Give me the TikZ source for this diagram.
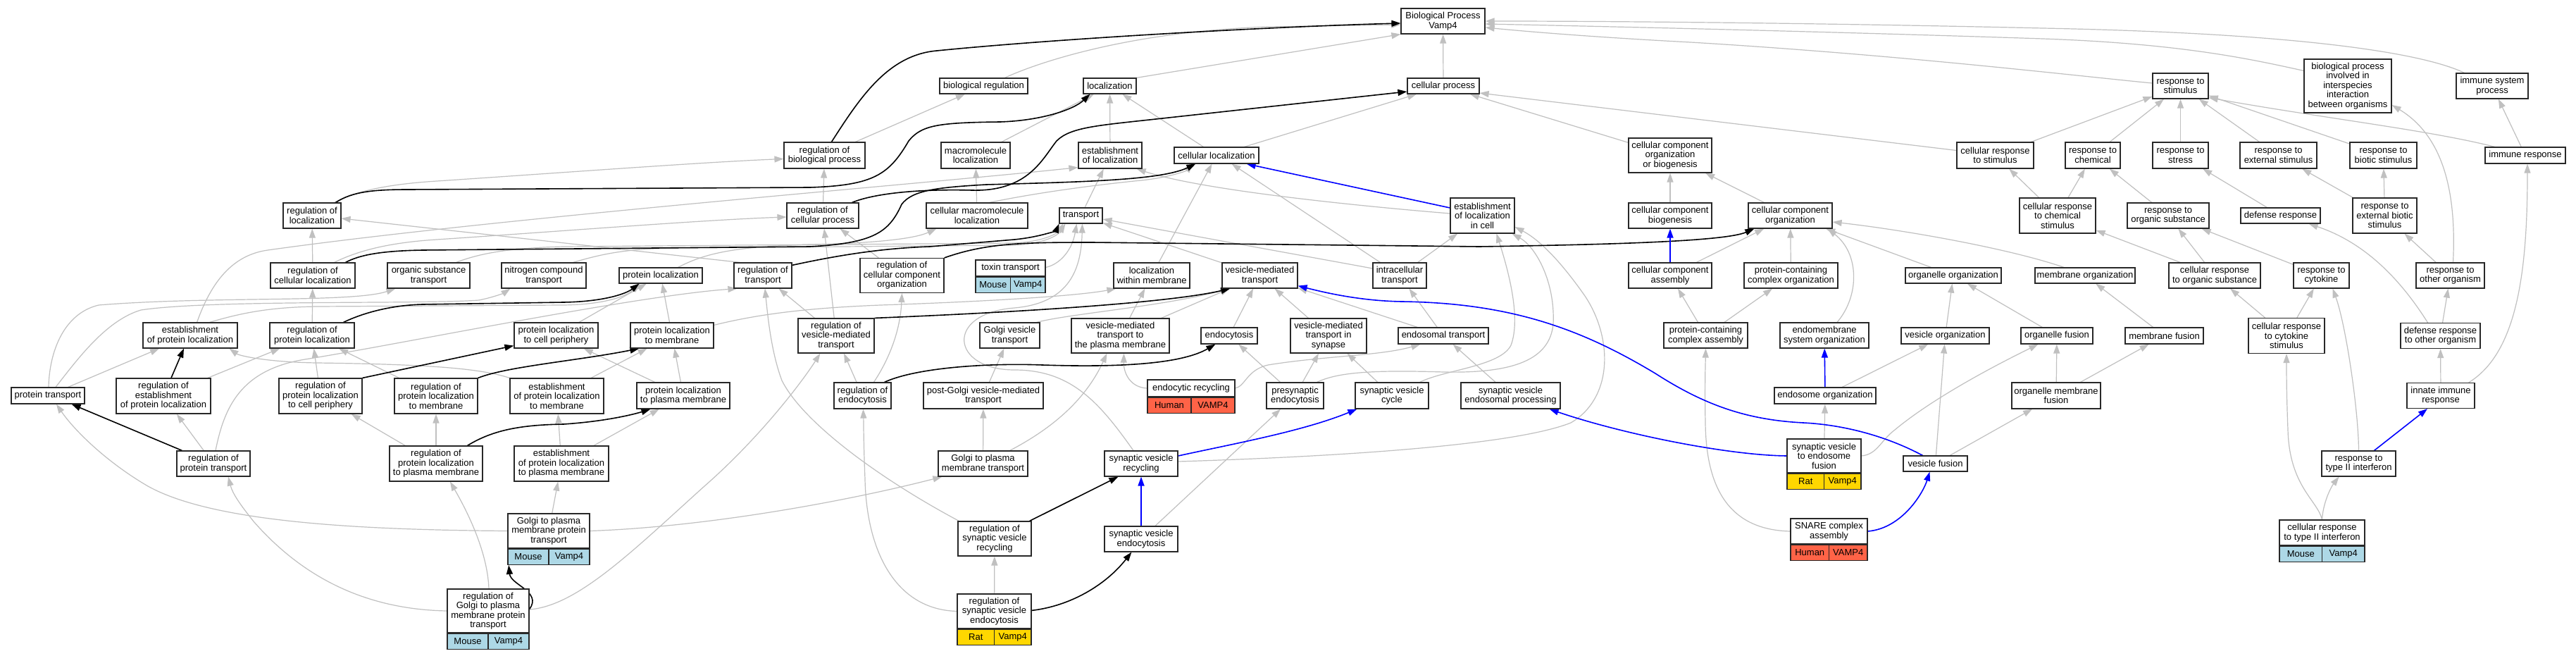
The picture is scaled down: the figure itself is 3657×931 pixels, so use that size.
\documentclass[tikz,border=0pt]{standalone}
\usepackage{fontspec}
\setmainfont{Liberation Sans}
\usetikzlibrary{arrows.meta,calc,fit,backgrounds}
\definecolor{edgegray}{RGB}{192,192,192}
\definecolor{mouseblue}{RGB}{173,216,230}
\definecolor{humanred}{RGB}{255,99,71}
\definecolor{ratgold}{RGB}{255,215,0}
\definecolor{boxline}{RGB}{40,40,40}
\newcommand\glbl{\fontsize{13pt}{13.4pt}\selectfont}
\tikzset{
 gobox/.style={draw=boxline, line width=1.2pt, fill=white, inner sep=1pt, align=center, font=\glbl},
 gbox/.style 2 args={gobox, minimum width=#1pt, minimum height=#2pt},
 gcell/.style={draw=boxline, line width=1.2pt, inner sep=0pt, font=\glbl, minimum height=22pt},
 eisa/.style={draw=edgegray, line width=1.2pt, -{Triangle[length=13pt,width=9pt]}},
 ereg/.style={draw=black, line width=1.6pt, -{Triangle[length=13pt,width=9pt]}},
 epart/.style={draw=blue, line width=1.6pt, -{Triangle[length=13pt,width=9pt]}},
}
\newcommand\recnode[9]{%
 \node[gbox={#4}{#5}] (#1T) at (#2,#3) {#6};
 \node[gcell, fill=#9, minimum width={#4pt/2}, anchor=north west] (#1A) at (#1T.south west) {#7};
 \node[gcell, fill=#9, minimum width={#4pt/2}, anchor=north east] (#1B) at (#1T.south east) {#8};
 \node[fit=(#1T)(#1A)(#1B), inner sep=0pt] (#1) {};
}
\begin{document}
\begin{tikzpicture}[x=1pt,y=-1pt]
\useasboundingbox (0,0) rectangle (3657,931);
% ---------- R0
\node[gbox={119}{36}] (bp) at (2048.5,30) {Biological Process\\Vamp4};
% ---------- R1
\node[gbox={125}{22}] (breg) at (1396.5,122) {biological regulation};
\node[gbox={75}{22}] (loc) at (1575.5,122) {localization};
\node[gbox={102}{22}] (cp) at (2049,122) {cellular process};
\node[gbox={79}{36}] (rstim) at (3095.5,122) {response to\\stimulus};
\node[gbox={124}{76}] (inter) at (3333,122) {biological process\\involved in\\interspecies\\interaction\\between organisms};
\node[gbox={102}{36}] (isp) at (3538,122) {immune system\\process};
% ---------- R2
\node[gbox={115}{37}] (rbp) at (1170.5,220.5) {regulation of\\biological process};
\node[gbox={98}{37}] (mloc) at (1385,220.5) {macromolecule\\localization};
\node[gbox={90}{37}] (eloc) at (1576,220.5) {establishment\\of localization};
\node[gbox={120}{23}] (cloc) at (1727,220.5) {cellular localization};
\node[gbox={118}{49}] (ccob) at (2371,220.5) {cellular component\\organization\\or biogenesis};
\node[gbox={109}{37}] (crs) at (2832.5,220.5) {cellular response\\to stimulus};
\node[gbox={78}{37}] (rchem) at (2971,220.5) {response to\\chemical};
\node[gbox={79}{37}] (rstress) at (3095.5,220.5) {response to\\stress};
\node[gbox={109}{37}] (rext) at (3234.5,220.5) {response to\\external stimulus};
\node[gbox={95}{37}] (rbio) at (3383.5,220.5) {response to\\biotic stimulus};
\node[gbox={114}{23}] (ir) at (3585,220.5) {immune response};
% ---------- R3
\node[gbox={82}{36}] (rloc) at (443,306) {regulation of\\localization};
\node[gbox={102}{36}] (rcp) at (1168,306) {regulation of\\cellular process};
\node[gbox={144}{36}] (cmloc) at (1387,306) {cellular macromolecule\\localization};
\node[gbox={61}{22}] (transport) at (1534.5,306) {transport};
\node[gbox={91}{50}] (elocc) at (2104.5,306) {establishment\\of localization\\in cell};
\node[gbox={118}{36}] (ccb) at (2371,306) {cellular component\\biogenesis};
\node[gbox={119}{36}] (cco) at (2541.5,306) {cellular component\\organization};
\node[gbox={108}{50}] (crcs) at (2921,306) {cellular response\\to chemical\\stimulus};
\node[gbox={116}{36}] (ros) at (3078,306) {response to\\organic substance};
\node[gbox={113}{22}] (defr) at (3237.5,306) {defense response};
\node[gbox={91}{50}] (rebs) at (3385.5,306) {response to\\external biotic\\stimulus};
% ---------- R4
\node[gbox={120}{36}] (rcloc) at (444,391) {regulation of\\cellular localization};
\node[gbox={117}{36}] (ost) at (608.5,391) {organic substance\\transport};
\node[gbox={120}{36}] (nct) at (772,391) {nitrogen compound\\transport};
\node[gbox={118}{22}] (ploc) at (938,391) {protein localization};
\node[gbox={82}{36}] (rtr) at (1083,391) {regulation of\\transport};
\node[gbox={119}{49}] (rcco) at (1280.5,391) {regulation of\\cellular component\\organization};
\recnode{toxin}{1434.5}{380.5}{99}{23}{toxin transport}{Mouse}{Vamp4}{mouseblue}
\node[gbox={108}{36}] (lwm) at (1635,391) {localization\\within membrane};
\node[gbox={107}{36}] (vmt) at (1788.5,391) {vesicle-mediated\\transport};
\node[gbox={76}{36}] (ict) at (1987,391) {intracellular\\transport};
\node[gbox={118}{36}] (cca) at (2371,391) {cellular component\\assembly};
\node[gbox={133}{36}] (pcco) at (2542.5,391) {protein-containing\\complex organization};
\node[gbox={136}{22}] (oo) at (2773,391) {organelle organization};
\node[gbox={142}{22}] (mo) at (2960,391) {membrane organization};
\node[gbox={130}{36}] (cros) at (3144,391) {cellular response\\to organic substance};
\node[gbox={79}{36}] (rcyt) at (3295.5,391) {response to\\cytokine};
\node[gbox={97}{36}] (roo) at (3478.5,391) {response to\\other organism};
% ---------- R5
\node[gbox={134}{36}] (epl) at (270,476) {establishment\\of protein localization};
\node[gbox={120}{36}] (rpl) at (443,476) {regulation of\\protein localization};
\node[gbox={119}{36}] (plcp) at (789.5,476) {protein localization\\to cell periphery};
\node[gbox={118}{36}] (plm) at (954,476) {protein localization\\to membrane};
\node[gbox={108}{49}] (rvmt) at (1187,476.5) {regulation of\\vesicle-mediated\\transport};
\node[gbox={85}{36}] (gvt) at (1433.5,476) {Golgi vesicle\\transport};
\node[gbox={139}{49}] (vmtpm) at (1590.5,476.5) {vesicle-mediated\\transport to\\the plasma membrane};
\node[gbox={80}{23}] (endo) at (1745,476.5) {endocytosis};
\node[gbox={108}{49}] (vmts) at (1886,476.5) {vesicle-mediated\\transport in\\synapse};
\node[gbox={128}{23}] (et) at (2049,476.5) {endosomal transport};
\node[gbox={119}{36}] (pcca) at (2421.5,476) {protein-containing\\complex assembly};
\node[gbox={126}{36}] (emso) at (2590,476) {endomembrane\\system organization};
\node[gbox={125}{23}] (vo) at (2761.5,476.5) {vesicle organization};
\node[gbox={102}{23}] (of) at (2920,476.5) {organelle fusion};
\node[gbox={111}{23}] (mf) at (3072.5,476.5) {membrane fusion};
\node[gbox={108}{50}] (crcy) at (3246,476.5) {cellular response\\to cytokine\\stimulus};
\node[gbox={113}{36}] (dro) at (3464.5,476.5) {defense response\\to other organism};
% ---------- R6
\node[gbox={104}{23}] (pt) at (68,561.5) {protein transport};
\node[gbox={134}{50}] (repl) at (232,562) {regulation of\\establishment\\of protein localization};
\node[gbox={118}{50}] (rplcp) at (455,562) {regulation of\\protein localization\\to cell periphery};
\node[gbox={118}{50}] (rplm) at (619,562) {regulation of\\protein localization\\to membrane};
\node[gbox={133}{50}] (eplm) at (790.5,562) {establishment\\of protein localization\\to membrane};
\node[gbox={132}{37}] (plpm) at (970,561.5) {protein localization\\to plasma membrane};
\node[gbox={81}{37}] (rendo) at (1224.5,561.5) {regulation of\\endocytosis};
\node[gbox={170}{37}] (pgvt) at (1396,561.5) {post-Golgi vesicle-mediated\\transport};
\recnode{erec}{1691}{551}{124}{24}{endocytic recycling}{Human}{VAMP4}{humanred}
\node[gbox={81}{37}] (pse) at (1838.5,561.5) {presynaptic\\endocytosis};
\node[gbox={104}{37}] (svc) at (1976,561.5) {synaptic vesicle\\cycle};
\node[gbox={141}{37}] (svep) at (2144.5,561.5) {synaptic vesicle\\endosomal processing};
\node[gbox={144}{23}] (eo) at (2591,561.5) {endosome organization};
\node[gbox={126}{37}] (omf) at (2919,561.5) {organelle membrane\\fusion};
\node[gbox={96}{36}] (iir) at (3465,561.5) {innate immune\\response};
% ---------- R7
\node[gbox={104}{36}] (rpt) at (303,658) {regulation of\\protein transport};
\node[gbox={132}{50}] (rplpm) at (619,658) {regulation of\\protein localization\\to plasma membrane};
\node[gbox={134}{50}] (eplpm) at (797,658) {establishment\\of protein localization\\to plasma membrane};
\node[gbox={127}{36}] (gpmt) at (1395.5,658) {Golgi to plasma\\membrane transport};
\node[gbox={104}{36}] (svr) at (1620,658) {synaptic vesicle\\recycling};
\recnode{svef}{2589.5}{647}{105}{48}{synaptic vesicle\\to endosome\\fusion}{Rat}{Vamp4}{ratgold}
\node[gbox={91}{22}] (vf) at (2747.5,658) {vesicle fusion};
\node[gbox={105}{36}] (rt2) at (3348.5,658) {response to\\type II interferon};
% ---------- R8
\recnode{gpmpt}{779}{753.5}{116}{49}{Golgi to plasma\\membrane protein\\transport}{Mouse}{Vamp4}{mouseblue}
\node[gbox={104}{49}] (rsvr) at (1412,764.5) {regulation of\\synaptic vesicle\\recycling};
\node[gbox={104}{36}] (sve) at (1620,765) {synaptic vesicle\\endocytosis};
\recnode{snare}{2596.5}{754}{109}{36}{SNARE complex\\assembly}{Human}{VAMP4}{humanred}
\recnode{crt2}{3296.5}{756}{121}{36}{cellular response\\to type II interferon}{Mouse}{Vamp4}{mouseblue}
% ---------- R9
\recnode{rgpmpt}{693}{867}{116}{62}{regulation of\\Golgi to plasma\\membrane protein\\transport}{Mouse}{Vamp4}{mouseblue}
\recnode{rsve}{1411.5}{867.5}{105}{49}{regulation of\\synaptic vesicle\\endocytosis}{Rat}{Vamp4}{ratgold}

\begin{pgfonlayer}{background}
\fill[white] (0,0) rectangle (3657,931);
% ================= gray (is a)
\draw[eisa] ($(breg.north)+(30,0)$) .. controls (1470,90) and (1600,45) .. (1800,38) -- ($(bp.west)+(0,5)$);
\draw[eisa] (loc.north east) -- (bp.south west);
\draw[eisa] (cp) -- (bp);
\draw[eisa] ($(rstim.west)+(0,-4)$) .. controls (2950,108) and (2700,78) .. (2400,60) .. controls (2250,52) and (2160,44) .. ($(bp.east)+(0,9)$);
\draw[eisa] ($(inter.north west)+(0,17)$) .. controls (3200,85) and (3100,62) .. (2900,55) .. controls (2600,45) and (2300,38) .. ($(bp.east)+(0,4)$);
\draw[eisa] ($(isp.north west)+(12,0)$) .. controls (3450,80) and (3300,48) .. (2900,40) .. controls (2600,33) and (2300,30) .. (bp.east);
\draw[eisa] (cloc) -- (cp);
\draw[eisa] (ccob) -- (cp);
\draw[eisa] ($(crs.west)+(0,-7)$) -- ($(cp.east)+(0,10)$);
\draw[eisa] (rbp) -- (breg);
\draw[eisa] (mloc) -- (loc);
\draw[eisa] (eloc) -- (loc);
\draw[eisa] (cloc) -- (loc);
\draw[eisa] ($(rloc.north east)+(-10,0)$) .. controls (500,274) and (540,262) .. (620,257) .. controls (800,245) and (1000,230) .. ($(rbp.west)+(0,5)$);
\draw[eisa] (rcp) -- (rbp);
\draw[eisa] (cmloc) -- (mloc);
\draw[eisa] ($(cmloc.north east)+(-55,0)$) .. controls (1480,272) and (1560,262) .. (1620,256) .. controls (1660,252) and (1685,242) .. ($(cloc.south west)+(27,0)$);
\draw[eisa] (transport) -- (eloc);
\draw[eisa] ($(elocc.west)+(0,-3)$) .. controls (1900,290) and (1700,268) .. ($(eloc.south east)+(-8,0)$);
\draw[eisa] (ict) -- (elocc);
\draw[eisa] ($(ict.west)+(0,-10)$) .. controls (1900,372) and (1750,345) .. ($(transport.east)+(0,5)$);
\draw[eisa] ($(ict.north west)+(11,0)$) -- ($(cloc.south east)+(-39,0)$);
\draw[eisa] (lwm) -- (cloc);
\draw[eisa] (vmt) -- (transport);
\draw[eisa] ($(toxinT.east)+(0,-1)$) .. controls (1505,375) and (1522,355) .. ($(transport.south)+(-6,0)$);
\draw[eisa] ($(ost.north east)+(-20,0)$) .. controls (680,360) and (720,352) .. (800,350) -- (1440,345) .. controls (1480,343) and (1500,332) .. ($(transport.south west)+(6,0)$);
\draw[eisa] ($(nct.north east)+(-19,0)$) .. controls (850,362) and (880,354) .. (950,352) -- (1440,348) .. controls (1482,346) and (1502,334) .. ($(transport.south west)+(9,0)$);
\draw[eisa] ($(rtr.north west)+(9,0)$) -- ($(rloc.east)+(0,4)$);
\draw[eisa] (rcloc) -- (rloc);
\draw[eisa] ($(rcloc.north east)+(-30,0)$) .. controls (500,360) and (540,345) .. (620,340) .. controls (800,328) and (1000,312) .. ($(rcp.west)+(0,2)$);
\draw[eisa] ($(epl.north east)+(-58,0)$) .. controls (300,400) and (330,362) .. (380,355) .. controls (700,310) and (1300,262) .. ($(eloc.south west)+(0,-2)$);
\draw[eisa] ($(epl.north east)+(-40,0)$) .. controls (340,445) and (380,436) .. (450,435) -- (800,433) .. controls (860,432) and (890,420) .. ($(ploc.south west)+(30,0)$);
\draw[eisa] (rpl) -- (rcloc);
\draw[eisa] (repl) -- (rpl);
\draw[eisa] (pt) -- (epl);
\draw[eisa] ($(pt.north)+(1,0)$) .. controls (70,500) and (90,445) .. (140,433) .. controls (300,420) and (500,430) .. ($(ost.south west)+(12,0)$);
\draw[eisa] ($(pt.north)+(11,0)$) .. controls (110,510) and (150,455) .. (200,440) .. controls (300,425) and (600,432) .. (680,426) .. controls (700,422) and (715,416) .. ($(nct.south west)+(13,0)$);
\draw[eisa] (rpt) -- (repl);
\draw[eisa] ($(rpt.north)+(3,0)$) .. controls (318,580) and (340,525) .. (433,510) .. controls (560,490) and (900,420) .. ($(rtr.south west)+(5,0)$);
\draw[eisa] (rplcp) -- (rpl);
\draw[eisa] (rplm) -- (rpl);
\draw[eisa] (eplm.north west) .. controls (680,522) and (600,517) .. (450,515) .. controls (380,514) and (340,505) .. ($(epl.south east)+(-12,0)$);
\draw[eisa] (eplm) -- (plm);
\draw[eisa] (plcp) -- (ploc);
\draw[eisa] (plm) -- (ploc);
\draw[eisa] ($(plm.north east)+(0,4)$) .. controls (1080,445) and (1150,437) .. (1250,433) .. controls (1400,428) and (1530,420) .. ($(lwm.south west)+(4,0)$);
\draw[eisa] (plpm) -- (plm);
\draw[eisa] (plpm) -- (plcp);
\draw[eisa] (rplpm) -- (rplm);
\draw[eisa] (rplpm) -- (rplcp);
\draw[eisa] (eplpm) -- (eplm);
\draw[eisa] (eplpm) -- (plpm);
\draw[eisa] (gpmptT) -- (eplpm);
\draw[eisa] (gpmptT.east) .. controls (1000,748) and (1200,712) .. ($(gpmt.south west)+(6,0)$);
\draw[eisa] (gpmptT.west) .. controls (500,752) and (300,740) .. (210,690) .. controls (150,655) and (105,610) .. ($(pt.south)+(12,0)$);
\draw[eisa] ($(rgpmptT.north)+(1,0)$) .. controls (692,780) and (660,720) .. ($(rplpm.south)+(20,0)$);
\draw[eisa] (rgpmptT.west) .. controls (520,865) and (430,820) .. (360,740) .. controls (340,715) and (330,700) .. ($(rpt.south)+(21,0)$);
\draw[eisa] ($(rgpmptT.east)+(0,-2)$) .. controls (820,860) and (900,780) .. (1000,690) .. controls (1080,620) and (1140,540) .. ($(rvmt.south west)+(32,0)$);
\draw[eisa] (rendo) -- (rvmt);
\draw[eisa] ($(rendo.north)+(16,0)$) .. controls (1262,510) and (1278,470) .. (rcco.south);
\draw[eisa] (rvmt) -- (rtr);
\draw[eisa] (rvmt) -- (rcp);
\draw[eisa] (rcco) -- (rcp);
\draw[eisa] ($(rsvr.north west)+(2,0)$) .. controls (1250,680) and (1140,600) .. (1110,540) .. controls (1095,500) and (1090,450) .. ($(rtr.south)+(3,0)$);
\draw[eisa] (rsveT) -- (rsvr);
\draw[eisa] (rsveT.west) .. controls (1270,865) and (1230,780) .. (1228,680) .. controls (1226,630) and (1226,600) .. ($(rendo.south)+(1,0)$);
\draw[eisa] (sve) -- (pse);
\draw[eisa] ($(svr.north)+(-11,0)$) .. controls (1560,570) and (1520,525) .. (1440,525) .. controls (1350,525) and (1340,445) .. (1440,437) .. controls (1520,430) and (1535,380) .. ($(transport.south)+(2,0)$);
\draw[eisa] ($(svr.east)+(0,-3)$) .. controls (1900,648) and (2150,632) .. (2230,600) .. controls (2290,565) and (2290,480) .. (2250,420) .. controls (2215,370) and (2185,340) .. ($(elocc.east)+(0,16)$);
\draw[eisa] (pse) -- (endo);
\draw[eisa] (pse) -- (vmts);
\draw[eisa] ($(pse.north east)+(-10,0)$) .. controls (1900,528) and (1950,525) .. (2050,528) .. controls (2150,530) and (2200,510) .. (2205,460) .. controls (2208,400) and (2180,350) .. ($(elocc.south east)+(-4,0)$);
\draw[eisa] (svc) -- (vmts);
\draw[eisa] ($(svc.north east)+(-13,0)$) .. controls (2050,525) and (2130,520) .. (2145,490) .. controls (2160,450) and (2140,380) .. ($(elocc.south)+(20,0)$);
\draw[eisa] (svep) -- (et);
\draw[eisa] (svefT) -- (eo);
\draw[eisa] (svefT.east) .. controls (2665,645) and (2670,625) .. (2690,610) .. controls (2750,560) and (2850,510) .. ($(of.south west)+(25,0)$);
\draw[eisa] (eo) -- (vo);
\draw[eisa] ($(emso.north)+(18,0)$) .. controls (2640,420) and (2640,360) .. ($(cco.south east)+(-7,0)$);
\draw[eisa] (pcca) -- (cca);
\draw[eisa] (pcca) -- (pcco);
\draw[eisa] (pcco) -- (cco);
\draw[eisa] (cca) -- (cco);
\draw[eisa] (ccb) -- (ccob);
\draw[eisa] (cco) -- (ccob);
\draw[eisa] (snareT.west) .. controls (2460,752) and (2422,700) .. (2421,600) .. controls (2420,550) and (2421,520) .. (pcca.south);
\draw[eisa] (vf) -- (vo);
\draw[eisa] (vf) -- (omf);
\draw[eisa] (vo) -- (oo);
\draw[eisa] (of) -- (oo);
\draw[eisa] (omf) -- (of);
\draw[eisa] (omf) -- (mf);
\draw[eisa] (mf) -- (mo);
\draw[eisa] (oo) -- (cco);
\draw[eisa] ($(mo.north)+(-30,0)$) .. controls (2850,352) and (2700,326) .. ($(cco.east)+(0,9)$);
\draw[eisa] (crs) -- (rstim);
\draw[eisa] (rchem) -- (rstim);
\draw[eisa] (rstress) -- (rstim);
\draw[eisa] (rext) -- (rstim);
\draw[eisa] (rbio) -- (rstim);
\draw[eisa] ($(ir.north west)+(14,0)$) .. controls (3450,185) and (3300,168) .. ($(rstim.south east)+(0,-2)$);
\draw[eisa] (ir) -- (isp);
\draw[eisa] (ros) -- (rchem);
\draw[eisa] (crcs) -- (crs);
\draw[eisa] (crcs) -- (rchem);
\draw[eisa] (defr) -- (rstress);
\draw[eisa] (rebs) -- (rext);
\draw[eisa] (rebs) -- (rbio);
\draw[eisa] (cros) -- (crcs);
\draw[eisa] (cros) -- (ros);
\draw[eisa] (rcyt) -- (ros);
\draw[eisa] (roo) -- (rebs);
\draw[eisa] ($(roo.north)+(4,0)$) .. controls (3486,300) and (3480,200) .. ($(inter.east)+(0,27)$);
\draw[eisa] (crcy) -- (cros);
\draw[eisa] (crcy) -- (rcyt);
\draw[eisa] (dro) -- (roo);
\draw[eisa] ($(dro.north)+(-18,0)$) .. controls (3410,400) and (3360,345) .. ($(defr.south east)+(-17,0)$);
\draw[eisa] (iir) -- (dro);
\draw[eisa] ($(iir.north east)+(-9,0)$) .. controls (3575,500) and (3588,380) .. ($(ir.south)+(3,0)$);
\draw[eisa] (rt2.north) .. controls (3348,580) and (3330,460) .. ($(rcyt.south)+(16,0)$);
\draw[eisa] (crt2T.north) .. controls (3298,712) and (3310,690) .. ($(rt2.south)+(-28,0)$);
\draw[eisa] (crt2T.north) .. controls (3290,710) and (3250,690) .. (3248,610) .. controls (3246,560) and (3246,530) .. (crcy.south);
\draw[eisa] (erecT.west) .. controls (1605,550) and (1595,530) .. ($(vmtpm.south)+(5,0)$);
\draw[eisa] (erecT.east) .. controls (1768,548) and (1770,525) .. (1800,518) .. controls (1880,505) and (1960,505) .. ($(et.south west)+(32,0)$);
\draw[eisa] ($(gvt.north east)+(-5,0)$) .. controls (1520,445) and (1650,435) .. ($(vmt.south west)+(11,0)$);
\draw[eisa] (pgvt) -- (gvt);
\draw[eisa] (gpmt) -- (pgvt);
\draw[eisa] ($(gpmt.north east)+(-26,0)$) .. controls (1490,610) and (1540,570) .. ($(vmtpm.south west)+(51,0)$);
\draw[eisa] (vmtpm) -- (vmt);
\draw[eisa] (vmtpm) -- (lwm);
\draw[eisa] (endo) -- (vmt);
\draw[eisa] (vmts) -- (vmt);
\draw[eisa] (et) -- (vmt);
\draw[eisa] (et) -- (ict);
\draw[eisa] ($(ploc.north east)+(-35,0)$) .. controls (1000,360) and (1040,350) .. (1150,347) .. controls (1250,345) and (1300,338) .. ($(cmloc.south west)+(15,0)$);
% ================= black (regulates)
\draw[ereg] ($(rbp.north)+(10,0)$) .. controls (1220,140) and (1260,78) .. (1330,72) .. controls (1500,55) and (1800,38) .. ($(bp.west)+(0,3)$);
\draw[ereg] ($(rloc.north east)+(-8,0)$) .. controls (500,272) and (530,269) .. (580,269) -- (1150,266) .. controls (1240,263) and (1262,248) .. (1290,200) .. controls (1308,178) and (1330,174) .. (1420,173) .. controls (1480,171) and (1525,155) .. ($(loc.south west)+(10,0)$);
\draw[ereg] ($(rcp.north east)+(-10,0)$) .. controls (1240,275) and (1300,268) .. (1380,270) .. controls (1460,272) and (1480,225) .. (1500,200) .. controls (1520,180) and (1560,178) .. (1650,168) -- ($(cp.west)+(0,8)$);
\draw[ereg] ($(rcloc.north east)+(-14,0)$) .. controls (510,362) and (540,356) .. (600,355) -- (1150,350) .. controls (1240,345) and (1262,330) .. (1280,290) .. controls (1295,270) and (1330,266) .. (1400,262) .. controls (1550,258) and (1650,255) .. ($(cloc.south west)+(31,0)$);
\draw[ereg] ($(rtr.north east)+(0,4)$) .. controls (1200,360) and (1260,352) .. (1320,350) -- (1440,340) .. controls (1480,336) and (1500,326) .. (transport.south west);
\draw[ereg] (rcco.north east) .. controls (1400,345) and (1450,344) .. (1550,344) -- (2100,350) .. controls (2300,347) and (2450,342) .. ($(cco.south west)+(9,0)$);
\draw[ereg] (rvmt.north east) .. controls (1400,445) and (1650,432) .. ($(vmt.south west)+(12,0)$);
\draw[ereg] ($(rendo.north east)+(-10,0)$) .. controls (1300,522) and (1400,515) .. (1480,518) .. controls (1600,522) and (1680,515) .. ($(endo.south west)+(21,0)$);
\draw[ereg] ($(rpt.north west)+(8,0)$) -- ($(pt.south east)+(-19,0)$);
\draw[ereg] ($(repl.north)+(11,0)$) -- ($(epl.south)+(-9,0)$);
\draw[ereg] ($(rpl.north east)+(-16,0)$) .. controls (520,442) and (560,433) .. (600,432) -- (800,429) .. controls (860,428) and (890,416) .. ($(ploc.south west)+(29,0)$);
\draw[ereg] (rplcp.north east) -- ($(plcp.south west)+(0,-4)$);
\draw[ereg] (rplm.north east) .. controls (720,520) and (820,512) .. ($(plm.south west)+(13,0)$);
\draw[ereg] ($(rplpm.north east)+(-22,0)$) .. controls (700,610) and (740,603) .. (800,602) .. controls (860,598) and (900,588) .. ($(plpm.south west)+(20,0)$);
\draw[ereg] ($(rgpmptT.north east)+(0,29)$) .. controls (770,840) and (725,830) .. ($(gpmpt.south west)+(2,0)$);
\draw[ereg] ($(rsvr.north east)+(-3,0)$) -- ($(svr.south west)+(20,0)$);
\draw[ereg] ($(rsveT.north east)+(0,24)$) .. controls (1520,860) and (1570,830) .. ($(sve.south west)+(39,0)$);
% ================= blue (part of)
\draw[epart] ($(elocc.west)+(0,-11)$) -- ($(cloc.south east)+(-18,0)$);
\draw[epart] (cca) -- (ccb);
\draw[epart] (eo) -- (emso);
\draw[epart] (sve) -- (svr);
\draw[epart] ($(svr.east)+(0,-11)$) .. controls (1750,630) and (1850,612) .. ($(svc.south west)+(3,0)$);
\draw[epart] (svefT.west) .. controls (2450,646) and (2300,615) .. ($(svep.south east)+(-16,0)$);
\draw[epart] ($(vf.north)+(-18,0)$) .. controls (2680,620) and (2620,603) .. (2560,600) .. controls (2480,596) and (2420,575) .. (2350,530) .. controls (2250,470) and (2150,430) .. (1990,428) .. controls (1930,427) and (1880,415) .. ($(vmt.south east)+(0,-4)$);
\draw[epart] (snareT.east) .. controls (2700,750) and (2730,700) .. ($(vf.south)+(-8,0)$);
\draw[epart] ($(rt2.north)+(22,0)$) -- ($(iir.south)+(-19,0)$);
\end{pgfonlayer}
\end{tikzpicture}
\end{document}
